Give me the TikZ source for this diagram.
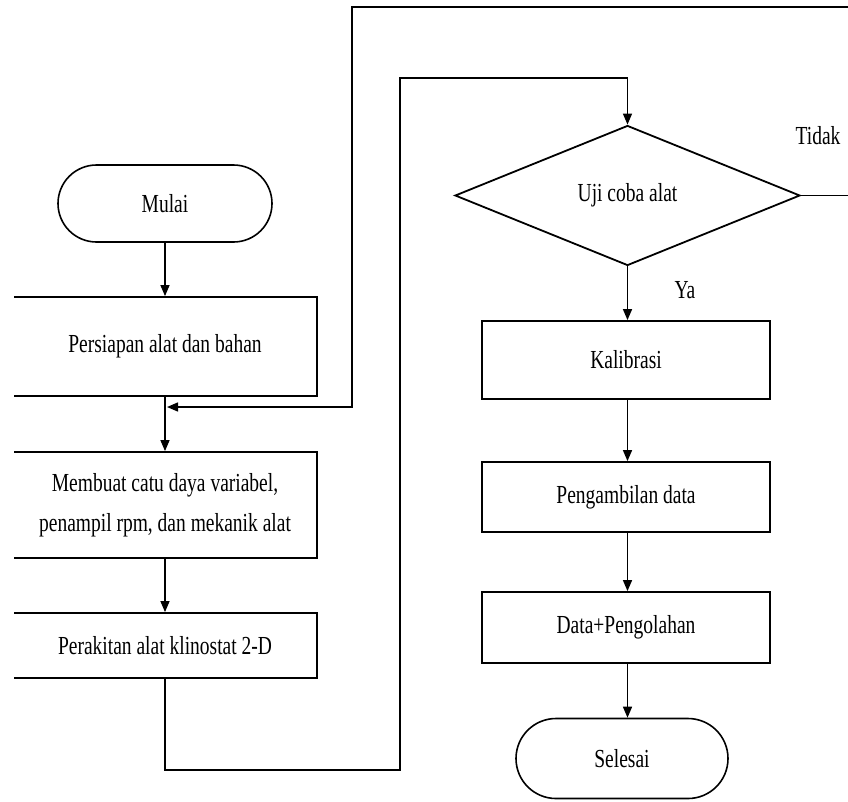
\documentclass[tikz,border=0pt]{standalone}
\usepackage{fontspec}
\setmainfont{Liberation Serif}[FakeStretch=0.75]
\usetikzlibrary{arrows.meta,shapes.geometric,shapes.misc}
\begin{document}
\begin{tikzpicture}[x=1pt,y=-1pt,
  every node/.style={font=\fontsize{26}{40}\selectfont, inner sep=0pt},
  procbox/.style={draw, line width=1.8pt, rectangle, align=center},
  termbox/.style={draw, line width=1.6pt, rounded rectangle, minimum width=212pt, minimum height=79pt},
  decbox/.style={draw, line width=1.8pt, diamond, aspect=2.4, minimum width=345pt, minimum height=140pt},
  conn/.style={line width=1.4pt, -{Triangle[length=11pt,width=9pt]}},
  plainconn/.style={line width=1.4pt},
  lbl/.style={font=\fontsize{26}{40}\selectfont}]
\useasboundingbox (0,0) rectangle (848,801);
\clip (14,0) rectangle (848,801);
% left column
\node[termbox, minimum width=214pt, minimum height=77pt] (mulai) at (165,203.5) {Mulai};
\node[procbox, minimum width=304pt, minimum height=99pt] (persiapan) at (165,346.5) {Persiapan alat dan bahan};
\node[procbox, minimum width=304pt, minimum height=106pt] (membuat) at (165,505) {Membuat catu daya variabel,\\penampil rpm, dan mekanik alat};
\node[procbox, minimum width=304pt, minimum height=65pt] (perakitan) at (165,645.5) {Perakitan alat klinostat 2-D};
% right column
\node[decbox] (uji) at (627.5,195.5) {Uji coba alat};
\node[procbox, minimum width=288pt, minimum height=78pt] (kalibrasi) at (626,360) {Kalibrasi};
\node[procbox, minimum width=288pt, minimum height=70pt] (ambil) at (626,497) {Pengambilan data};
\node[procbox, minimum width=288pt, minimum height=71pt] (olah) at (626,627.5) {Data+Pengolahan};
\node[termbox, minimum width=212pt, minimum height=80pt] (selesai) at (622,758.5) {Selesai};
% labels
\node[lbl] (tidak) at (818,136) {Tidak};
\node[lbl] (ya) at (685,290) {Ya};
% connectors
\draw[conn] (mulai.south) -- (persiapan.north);
\draw[conn] (persiapan.south) -- (membuat.north);
\draw[conn] (membuat.south) -- (perakitan.north);
\draw[conn] (perakitan.south) -- (165,770) -- (400,770) -- (400,78) -- (627.5,78) -- (uji.north);
\draw[conn] (uji.south) -- (kalibrasi.north -| uji.south);
\draw[conn] (kalibrasi.south -| uji.south) -- (ambil.north -| uji.south);
\draw[conn] (ambil.south -| uji.south) -- (olah.north -| uji.south);
\draw[conn] (olah.south -| uji.south) -- (selesai.north -| uji.south);
\coordinate (fb) at (167,407);
\draw[conn] (uji.east) -- (862,195.5) -- (862,7) -- (352,7) -- (352,407) -- (fb);
\end{tikzpicture}
\end{document}
